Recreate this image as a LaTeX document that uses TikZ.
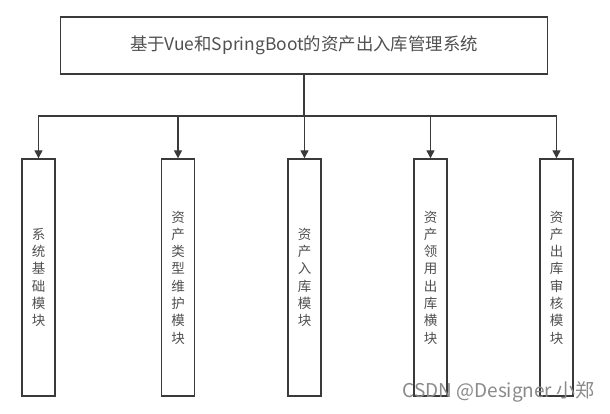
\documentclass[tikz,border=0pt]{standalone}
\usepackage{fontspec}
\setmainfont{Noto Sans CJK SC}
\usetikzlibrary{arrows.meta}
\definecolor{lc}{HTML}{3A3A3A}
\definecolor{tc}{HTML}{505050}
\definecolor{wm}{HTML}{8A8A8A}
\begin{document}
\begin{tikzpicture}[x=1pt,y=-1pt,
  box/.style={draw=lc, line width=1.4pt, inner sep=0pt, text=tc},
  mod/.style={box, minimum width=33pt, minimum height=237pt, align=center,
    font=\fontsize{13.5}{17.3}\selectfont},
  arr/.style={draw=lc, line width=1.4pt, -{Triangle[length=8pt,width=8pt]}}]
\useasboundingbox (0,0) rectangle (610,414);
\fill[white] (0,0) rectangle (610,414);
\node[box, minimum width=487pt, minimum height=57pt, font=\fontsize{17.4}{20}\selectfont] (top) at (304,45.5) {基于Vue和SpringBoot的资产出入库管理系统};
\coordinate (j) at (304,116);
\node[mod] (b1) at (38.5,277.5) {系\\统\\基\\础\\模\\块};
\node[mod] (b2) at (178,277.5) {资\\产\\类\\型\\维\\护\\模\\块};
\node[mod] (b3) at (304.5,277.5) {资\\产\\入\\库\\模\\块};
\node[mod] (b4) at (430.5,277.5) {资\\产\\领\\用\\出\\库\\横\\块};
\node[mod] (b5) at (556.5,277.5) {资\\产\\出\\库\\审\\核\\模\\块};
\draw[line width=1.4pt, draw=lc] (top.south) -- (j);
\foreach \b in {b1,b2,b3,b4,b5}
  \draw[arr] (j) -| (\b.north);
\node[text=wm, font=\fontsize{19}{21}\selectfont, inner sep=0pt] (wmk) at (498.5,392) {CSDN @Designer 小郑};
\end{tikzpicture}
\end{document}
